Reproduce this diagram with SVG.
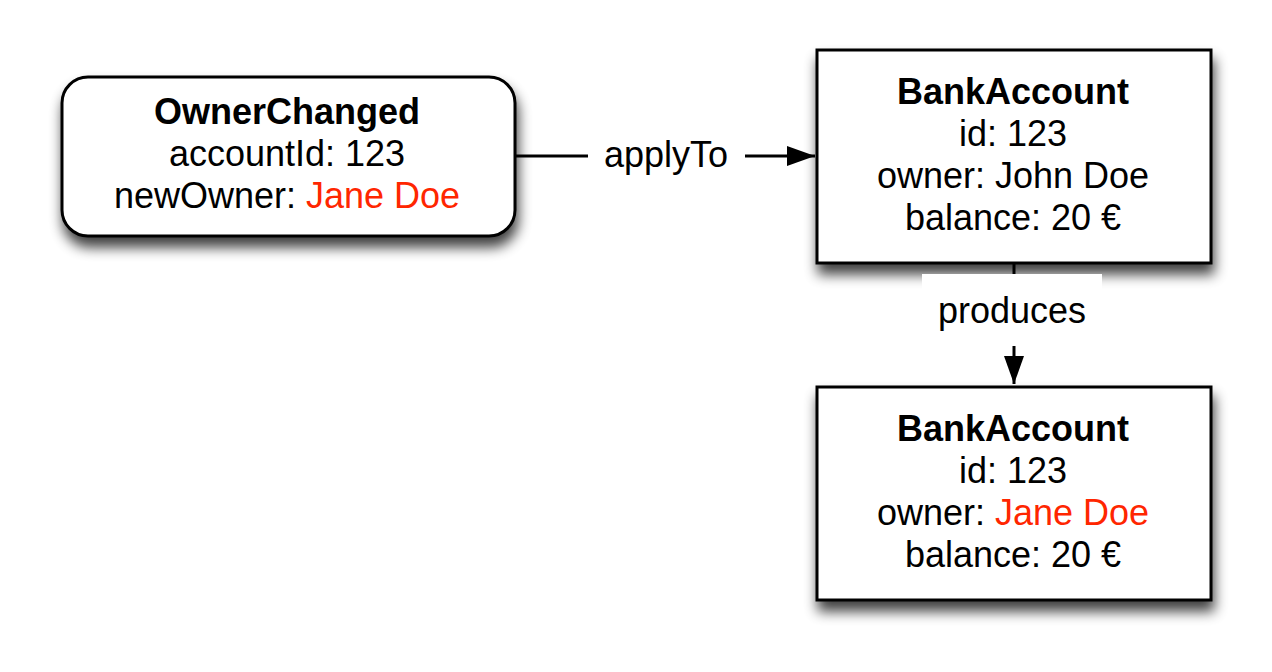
<svg xmlns="http://www.w3.org/2000/svg" width="1272" height="672" viewBox="0 0 1272 672">
<defs>
<filter id="sh" x="-20%" y="-20%" width="140%" height="160%">
<feGaussianBlur in="SourceAlpha" stdDeviation="6.5"/>
<feOffset dx="2" dy="10" result="b"/>
<feComponentTransfer><feFuncA type="linear" slope="0.75"/></feComponentTransfer>
<feMerge><feMergeNode/><feMergeNode in="SourceGraphic"/></feMerge>
</filter>
<marker id="ahv" viewBox="0 0 28 20" refX="28" refY="10" markerWidth="28" markerHeight="20" markerUnits="userSpaceOnUse" orient="auto">
<path d="M0,0 L28,10 L0,20 Z" fill="#000"/>
</marker>
</defs>
<style>
text{font-family:"Liberation Sans",Arial,sans-serif;font-size:36px;fill:#000;text-anchor:middle}
.b{font-weight:bold}
.r{fill:#ff2600}
.box{fill:#fff;stroke:#000;stroke-width:3}
.ln{stroke:#000;stroke-width:3;fill:none}
</style>
<rect width="1272" height="672" fill="#fff"/>
<g id="ownerChanged">
<rect class="box" x="62" y="77" width="453" height="159" rx="26" filter="url(#sh)"/>
<text class="b" x="287" y="124">OwnerChanged</text>
<text x="287" y="166">accountId: 123</text>
<text x="287" y="208">newOwner: <tspan class="r">Jane Doe</tspan></text>
</g>
<g id="bankAccountBefore">
<rect class="box" x="817" y="50" width="394" height="213" filter="url(#sh)"/>
<text class="b" x="1013" y="104">BankAccount</text>
<text x="1013" y="146">id: 123</text>
<text x="1013" y="188">owner: John Doe</text>
<text x="1013" y="230">balance: 20 €</text>
</g>
<g id="bankAccountAfter">
<rect class="box" x="817" y="387" width="394" height="213" filter="url(#sh)"/>
<text class="b" x="1013" y="441">BankAccount</text>
<text x="1013" y="483">id: 123</text>
<text x="1013" y="525">owner: <tspan class="r">Jane Doe</tspan></text>
<text x="1013" y="567">balance: 20 €</text>
</g>
<g id="connectors">
<line class="ln" x1="516" y1="156" x2="588" y2="156"/>
<line class="ln" x1="745" y1="156" x2="815" y2="156" marker-end="url(#ahv)"/>
<text x="666" y="167">applyTo</text>
<line class="ln" x1="1014" y1="264" x2="1014" y2="276"/>
<rect x="922" y="274" width="180" height="72" fill="#fff"/>
<line class="ln" x1="1014" y1="346" x2="1014" y2="384" marker-end="url(#ahv)"/>
<text x="1012" y="323">produces</text>
</g>
</svg>
